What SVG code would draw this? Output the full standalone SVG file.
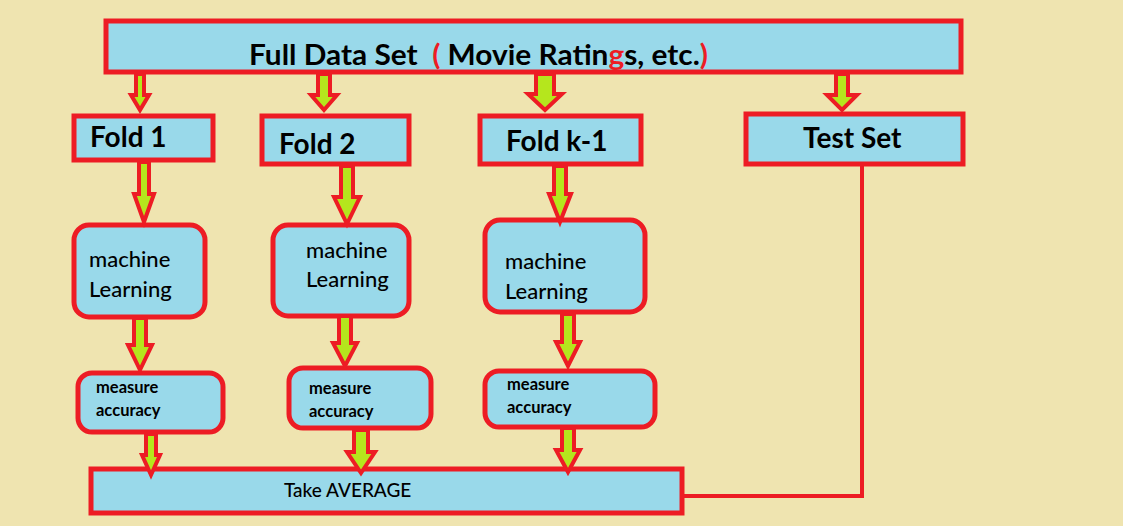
<svg xmlns="http://www.w3.org/2000/svg" width="1123" height="526" viewBox="0 0 1123 526">
<style>
.box{fill:#99D9EA;stroke:#ED1C24;stroke-width:5}
.arr{fill:#B5E61D;stroke:#ED1C24;stroke-width:4;stroke-linejoin:miter}
.big{font-family:Lato,"Liberation Sans",sans-serif;font-weight:bold;font-size:28px;fill:#000}
.ml{font-family:Lato,"Liberation Sans",sans-serif;font-size:22px;font-weight:500;fill:#000}
.ma{font-family:Lato,"Liberation Sans",sans-serif;font-weight:bold;font-size:16.5px;fill:#000}
.avg{font-family:Lato,"Liberation Sans",sans-serif;font-size:19px;font-weight:500;fill:#000}
.red{fill:#ED1C24}
</style>
<rect width="1123" height="526" fill="#EFE4B0"/>
<g id="full-data-set">
<rect class="box" x="106" y="21" width="855" height="51"/>
<text class="big" x="249" y="65" textLength="459" lengthAdjust="spacingAndGlyphs" xml:space="preserve">Full Data Set  <tspan class="red">(</tspan> Movie Ratin<tspan class="red">g</tspan>s, etc.<tspan class="red">)</tspan></text>
</g>
<g id="fold1">
<rect class="box" x="74" y="116" width="139" height="44"/>
<text class="big" x="90" y="147">Fold 1</text>
</g>
<g id="fold2">
<rect class="box" x="262" y="116" width="147" height="48"/>
<text class="big" x="279" y="154">Fold 2</text>
</g>
<g id="foldk1">
<rect class="box" x="480" y="116" width="161" height="48"/>
<text class="big" x="506" y="151">Fold k-1</text>
</g>
<g id="testset">
<rect class="box" x="746" y="114" width="217" height="50"/>
<text class="big" x="803" y="148">Test Set</text>
</g>
<g id="ml1">
<rect class="box" x="74" y="225" width="131" height="92" rx="15"/>
<text class="ml" x="89" y="267">machine</text>
<text class="ml" x="89" y="297">Learning</text>
</g>
<g id="ml2">
<rect class="box" x="273" y="225" width="136" height="91" rx="15"/>
<text class="ml" x="306" y="258">machine</text>
<text class="ml" x="306" y="287">Learning</text>
</g>
<g id="ml3">
<rect class="box" x="485" y="220" width="160" height="92" rx="15"/>
<text class="ml" x="505" y="269">machine</text>
<text class="ml" x="505" y="299">Learning</text>
</g>
<g id="ma1">
<rect class="box" x="78" y="373" width="145" height="59" rx="14"/>
<text class="ma" x="96" y="393">measure</text>
<text class="ma" x="96" y="416">accuracy</text>
</g>
<g id="ma2">
<rect class="box" x="289" y="368" width="142" height="60" rx="14"/>
<text class="ma" x="309" y="394">measure</text>
<text class="ma" x="309" y="417">accuracy</text>
</g>
<g id="ma3">
<rect class="box" x="485" y="371" width="170" height="56" rx="14"/>
<text class="ma" x="507" y="390">measure</text>
<text class="ma" x="507" y="413">accuracy</text>
</g>
<g id="take-average">
<rect class="box" x="91" y="469" width="591" height="44"/>
<text class="avg" x="284" y="497">Take AVERAGE</text>
</g>
<g id="connectors">
<polyline points="862,164 862,496 682,496" fill="none" stroke="#ED1C24" stroke-width="4"/>
<polygon class="arr" points="136,74 144,74 144,95 149,95 140,110 131,95 136,95"/>
<polygon class="arr" points="318,74 330,74 330,95 337,95 324,110 311,95 318,95"/>
<polygon class="arr" points="536,74 554,74 554,94 562,94 545,110 528,94 536,94"/>
<polygon class="arr" points="836,74 848,74 848,95 857,95 842,110 827,95 836,95"/>
<polygon class="arr" points="139,162 149,162 149,194 154,194 144,222 134,194 139,194"/>
<polygon class="arr" points="341,166 353,166 353,197 360,197 347,224 334,197 341,197"/>
<polygon class="arr" points="554,166 566,166 566,194 571,194 560,222 549,194 554,194"/>
<polygon class="arr" points="134,318 146,318 146,345 152,345 140,370 128,345 134,345"/>
<polygon class="arr" points="339,316 351,316 351,343 357,343 345,366 333,343 339,343"/>
<polygon class="arr" points="562,314 574,314 574,342 580,342 568,366 556,342 562,342"/>
<polygon class="arr" points="146,434 156,434 156,455 160,455 151,475 142,455 146,455"/>
<polygon class="arr" points="354,430 368,430 368,452 375,452 361,473 347,452 354,452"/>
<polygon class="arr" points="562,428 574,428 574,450 580,450 568,472 556,450 562,450"/>
</g>
</svg>
